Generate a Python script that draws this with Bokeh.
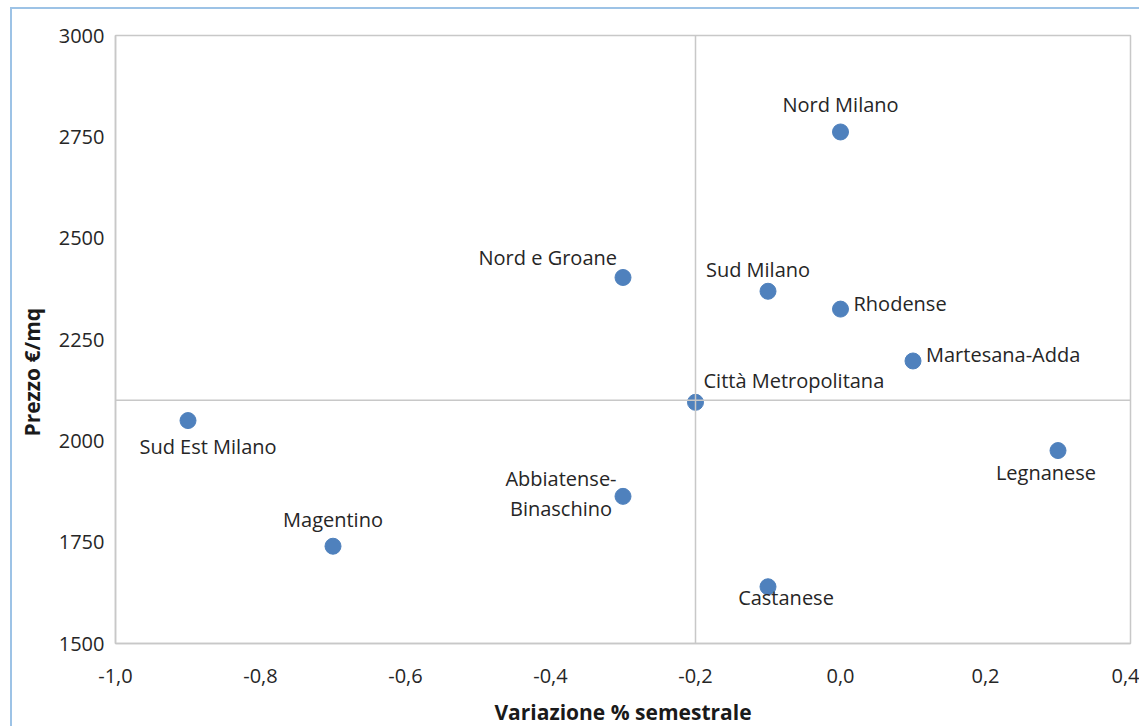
from bokeh.plotting import figure
from bokeh.models import ColumnDataSource, Span, Range1d, FixedTicker, CustomJSTickFormatter
from bokeh.core.properties import value
from bokeh.embed import file_html
from bokeh.resources import INLINE

# Data
zones = ["Nord Milano", "Nord e Groane", "Sud Milano", "Rhodense", "Martesana-Adda",
         "Città Metropolitana", "Sud Est Milano", "Legnanese", "Abbiatense-\nBinaschino",
         "Magentino", "Castanese"]
variazione = [0.0, -0.3, -0.1, 0.0, 0.1, -0.2, -0.9, 0.3, -0.3, -0.7, -0.1]
prezzo = [2762, 2403, 2369, 2325, 2197, 2095, 2050, 1976, 1863, 1740, 1640]
x_ticks = [-1.0, -0.8, -0.6, -0.4, -0.2, 0.0, 0.2, 0.4]
y_ticks = [1500, 1750, 2000, 2250, 2500, 2750, 3000]
cross_x = -0.2
cross_y = 2100

# label placement (layout only)
placement = ["above", "left", "above_l", "right", "right", "above_r", "below_r",
             "below_l", "left2", "above", "below_r2"]
offsets = {
    "above": ("center", 0, -27), "left": ("right", -6, -20), "above_l": ("center", -10, -22),
    "right": ("left", 13, -6), "above_r": ("left", 8, -22), "below_r": ("center", 20, 26),
    "below_l": ("center", -12, 22), "left2": ("center", -62, -3), "below_r2": ("center", 18, 11),
}
FONT = "Open Sans"

p = figure(width=1129, height=719, output_backend="svg", toolbar_location=None,
           x_range=Range1d(-1.0, 0.4), y_range=Range1d(1500, 3000),
           min_border_left=103, min_border_top=26, min_border_right=11, min_border_bottom=82)
p.styles = {"border-left": "2px solid #9dc3e6", "border-top": "2px solid #9dc3e6",
            "margin-left": "10px", "margin-top": "7px"}
p.background_fill_color = "white"
p.border_fill_color = "white"
p.grid.visible = False
p.outline_line_color = "#c8c8c8"
p.outline_line_width = 1.5

for ax in (p.xaxis[0], p.yaxis[0]):
    ax.axis_line_color = "#c8c8c8"
    ax.axis_line_width = 1.5
    ax.major_tick_line_color = None
    ax.minor_tick_line_color = None
    ax.major_label_text_font = FONT
    ax.major_label_text_font_size = "20px"
    ax.major_label_text_color = "#262626"
    ax.axis_label_text_font = FONT
    ax.axis_label_text_font_style = "bold"
    ax.axis_label_text_font_size = "21px"
    ax.axis_label_text_color = "#1a1a1a"

p.xaxis.ticker = FixedTicker(ticks=x_ticks)
p.yaxis.ticker = FixedTicker(ticks=y_ticks)
p.xaxis.formatter = CustomJSTickFormatter(code="return tick.toFixed(1).replace('.', ',');")
p.xaxis.major_label_standoff = 19
p.yaxis.major_label_standoff = 5
p.xaxis.axis_label = "Variazione % semestrale"
p.xaxis.axis_label_standoff = 12
# trailing no-break spaces push the visible title lower, as in the original
p.yaxis.axis_label = "Prezzo €/mq" + "\u00a0" * 12
p.yaxis.axis_label_standoff = 10

p.add_layout(Span(location=cross_x, dimension="height", line_color="#c8c8c8", line_width=1.5))
p.add_layout(Span(location=cross_y, dimension="width", line_color="#c8c8c8", line_width=1.5))

src = ColumnDataSource(dict(
    x=variazione, y=prezzo, name=zones,
    align=[offsets[k][0] for k in placement],
    dx=[offsets[k][1] for k in placement],
    dy=[offsets[k][2] for k in placement],
))
p.scatter("x", "y", source=src, size=16, fill_color="#4f81bd", line_color="#4f81bd")
p.text("x", "y", text="name", source=src, x_offset="dx", y_offset="dy",
       text_align="align", text_baseline="middle",
       text_font=value(FONT), text_font_size="20px", text_color="#262626",
       text_line_height=1.12)

open("out.html", "w").write(file_html(p, INLINE))
